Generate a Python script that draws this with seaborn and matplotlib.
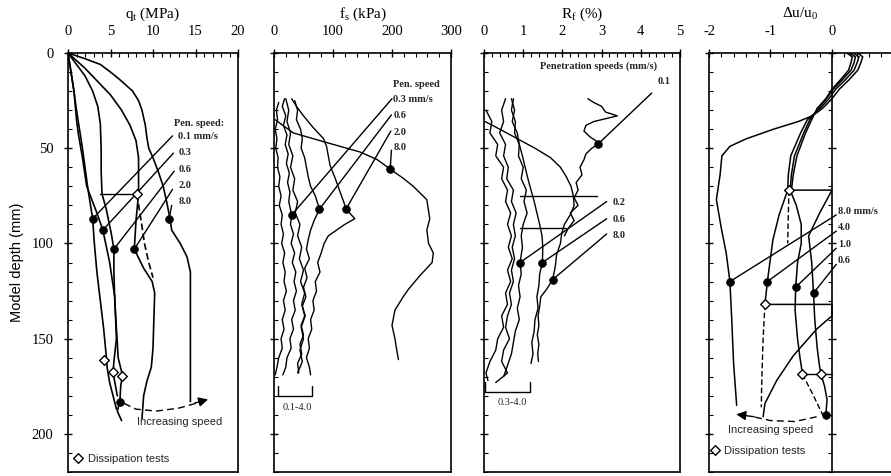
import matplotlib
matplotlib.use("Agg")
import matplotlib.pyplot as plt
import seaborn as sns
from matplotlib.ticker import MultipleLocator

# ---------------- data ----------------
# Panel 1: cone resistance q_t (MPa) vs depth (mm)
qt_01_d = [0, 10, 20, 30, 40, 50, 60, 70, 80, 87, 100, 115, 130, 145, 159, 165, 173, 180, 187]
qt_01 = [0, 0.35, 0.7, 1.0, 1.35, 1.7, 2.0, 2.3, 2.65, 2.9, 3.1, 3.4, 3.8, 4.2, 4.5, 4.6, 4.9, 5.3, 5.7]
qt_03_d = [0, 7, 20, 35, 42, 55, 70, 84, 93, 110, 128, 150, 162, 168, 175, 180]
qt_03 = [0, 0.25, 0.7, 1.0, 1.2, 1.7, 2.2, 3.4, 4.1, 4.9, 5.5, 5.7, 5.4, 5.3, 5.6, 5.8]
qt_06_d = [0, 6, 12, 20, 28, 37, 50, 62, 74, 82, 95, 103, 115, 130, 145, 160, 169, 175, 183, 188, 193]
qt_06 = [0, 1.0, 2.0, 2.9, 3.5, 3.8, 3.9, 3.9, 4.0, 4.5, 5.1, 5.4, 5.4, 5.5, 5.7, 5.9, 6.4, 6.2, 6.1, 5.8, 6.3]
qt_20_d = [0, 8, 15, 22, 30, 38, 46, 55, 65, 74, 88, 103, 113, 120, 126, 140, 155, 165, 172, 180, 192]
qt_20 = [0, 2.0, 3.5, 5.0, 6.3, 7.3, 8.0, 8.3, 8.3, 8.3, 8.0, 7.8, 8.9, 9.9, 10.2, 10.1, 10.0, 9.8, 9.3, 8.9, 8.7]
qt_80_d = [0, 3, 6, 10, 14, 20, 25, 30, 38, 45, 50, 55, 62, 70, 78, 87, 93, 100, 107, 115, 130, 150, 170, 183]
qt_80 = [0, 2.0, 3.8, 5.0, 6.1, 7.6, 8.3, 8.7, 9.1, 9.3, 9.5, 10.0, 10.6, 11.2, 11.6, 12.0, 12.2, 13.2, 14.0, 14.4, 14.4, 14.4, 14.4, 14.4]
qt_dash_d = [74, 88, 100, 110, 118]
qt_dash = [8.1, 8.6, 9.0, 9.5, 10.0]
qt_dots_x = [2.9, 4.1, 5.4, 7.8, 11.9, 6.1]
qt_dots_d = [87, 93, 103, 103, 87, 183]
qt_diss_x = [8.1, 4.2, 5.3, 6.4]
qt_diss_d = [74, 161, 167.7, 169.5]
qt_speeds = ["0.1 mm/s", "0.3", "0.6", "2.0", "8.0"]

# Panel 2: sleeve friction f_s (kPa)
fs_01_d = [26, 30, 35, 40, 45, 50, 55, 60, 65, 70, 75, 80, 85, 90, 95, 100, 105, 110, 115, 120, 125, 130, 135, 140, 145, 150, 155, 160, 165, 169]
fs_01 = [8, 4, 6, 2, 5, 3, 7, 6, 10, 8, 12, 9, 14, 12, 16, 13, 18, 15, 19, 17, 21, 16, 19, 14, 17, 12, 14, 8, 5, 2]
fs_03_d = [24, 28, 33, 38, 43, 48, 53, 58, 63, 68, 73, 78, 85, 90, 95, 100, 105, 110, 115, 120, 125, 130, 135, 140, 145, 150, 155, 160, 165, 169]
fs_03 = [18, 14, 20, 16, 22, 19, 24, 21, 26, 23, 27, 25, 30, 28, 33, 29, 35, 31, 37, 34, 38, 33, 36, 30, 33, 27, 29, 22, 20, 15]
fs_06_d = [25, 30, 35, 40, 45, 50, 55, 60, 65, 70, 75, 82, 88, 93, 98, 103, 108, 113, 118, 123, 128, 133, 138, 143, 148, 153, 158, 163, 168]
fs_06 = [35, 40, 38, 45, 48, 46, 52, 55, 58, 62, 70, 77, 68, 62, 58, 55, 60, 52, 56, 50, 54, 48, 52, 46, 50, 44, 47, 40, 42]
fs_20_d = [24, 28, 33, 39, 45, 49, 54, 59, 66, 73, 78, 82, 87, 90, 93, 96, 100, 105, 110, 115, 120, 125, 130, 135, 140, 145, 150, 155, 160, 165, 169]
fs_20 = [30, 38, 50, 66, 84, 89, 92, 95, 104, 112, 118, 122, 137, 120, 106, 92, 85, 80, 74, 78, 70, 72, 66, 68, 62, 64, 58, 60, 55, 60, 62]
fs_40_d = [24, 30, 36, 42, 48, 54, 60, 66, 72, 78, 84, 90, 96, 102, 108, 114, 120, 126, 132, 138, 144, 150, 156, 162, 168]
fs_40 = [20, 25, 22, 28, 25, 32, 28, 35, 32, 40, 36, 44, 40, 47, 43, 50, 45, 52, 47, 53, 46, 50, 44, 48, 40]
fs_80_d = [35, 38, 42, 47, 52, 56, 61, 66, 70, 77, 87, 93, 100, 105, 110, 117, 124, 128, 135, 143, 150, 156, 161]
fs_80 = [2, 15, 33, 89, 146, 175, 197, 220, 236, 259, 264, 259, 262, 270, 268, 247, 228, 219, 205, 200, 205, 208, 211]
fs_dots_x = [30, 77, 122, 197]
fs_dots_d = [85, 82, 82, 61]
fs_speeds = ["0.3 mm/s", "0.6", "2.0", "8.0"]

# Panel 3: friction ratio R_f (%)
rf_01_d = [24, 26, 28, 31, 33, 34, 36, 38, 41, 44, 46, 48, 50, 53, 56, 60, 64, 68, 72, 76, 80, 84, 88, 92, 96]
rf_01 = [2.65, 2.8, 3.0, 3.1, 3.4, 3.2, 2.8, 2.6, 2.55, 2.7, 2.85, 2.9, 2.75, 2.6, 2.55, 2.45, 2.5, 2.35, 2.4, 2.3, 2.4, 2.2, 2.3, 2.15, 2.05]
rf_80_d = [36, 40, 45, 50, 55, 60, 65, 70, 75, 80, 85, 90, 95, 100, 106, 112, 119, 124, 128, 133, 138, 143, 148, 153, 158, 162]
rf_80 = [0.03, 0.4, 0.85, 1.3, 1.7, 1.95, 2.1, 2.22, 2.28, 2.3, 2.2, 2.05, 1.98, 1.95, 1.85, 1.82, 1.75, 1.6, 1.45, 1.42, 1.38, 1.4, 1.36, 1.4, 1.37, 1.39]
rf_06_d = [24, 30, 36, 42, 48, 54, 60, 66, 72, 78, 84, 90, 96, 102, 110, 116, 122, 128, 134, 140, 146, 152, 158, 163]
rf_06 = [0.7, 0.78, 0.72, 0.85, 0.9, 0.98, 1.05, 1.12, 1.2, 1.28, 1.35, 1.42, 1.48, 1.5, 1.49, 1.42, 1.4, 1.35, 1.38, 1.3, 1.28, 1.22, 1.25, 1.2]
rf_02_d = [24, 30, 36, 42, 48, 54, 60, 66, 72, 78, 84, 90, 96, 102, 110, 116, 122, 128, 134, 140, 146, 152, 158, 164, 170]
rf_02 = [0.75, 0.7, 0.8, 0.78, 0.9, 0.88, 1.0, 0.95, 1.08, 1.02, 1.1, 1.0, 0.95, 0.98, 0.92, 0.95, 0.88, 0.92, 0.85, 0.9, 0.8, 0.75, 0.7, 0.6, 0.5]
rf_a_d = [30, 36, 42, 48, 54, 60, 66, 72, 78, 84, 90, 96, 102, 108, 114, 120, 126, 132, 138, 144, 150, 156, 162, 168, 172]
rf_a = [0.05, 0.2, 0.15, 0.35, 0.3, 0.5, 0.45, 0.6, 0.55, 0.68, 0.6, 0.7, 0.62, 0.72, 0.6, 0.68, 0.55, 0.6, 0.45, 0.5, 0.35, 0.3, 0.15, 0.05, 0.1]
rf_b_d = [24, 30, 36, 42, 48, 54, 60, 66, 72, 78, 84, 90, 96, 102, 108, 114, 120, 126, 132, 138, 144, 150, 156, 162, 168, 173]
rf_b = [0.55, 0.45, 0.5, 0.4, 0.55, 0.5, 0.62, 0.58, 0.75, 0.7, 0.82, 0.75, 0.8, 0.72, 0.78, 0.7, 0.75, 0.65, 0.7, 0.6, 0.55, 0.65, 0.5, 0.45, 0.6, 0.3]
rf_dots_x = [2.9, 0.92, 1.49, 1.75]
rf_dots_d = [48, 110, 110, 119]
rf_speeds = ["0.2", "0.6", "8.0"]

# Panel 4: normalised excess pore pressure du/u0
du_80_d = [0, 2, 5, 9, 14, 19, 24, 29, 33, 36, 40, 45, 49, 54, 64, 77, 92, 105, 120, 140, 163, 185]
du_80 = [0.42, 0.5, 0.47, 0.42, 0.28, 0.12, 0.0, -0.15, -0.32, -0.55, -0.95, -1.39, -1.66, -1.79, -1.82, -1.88, -1.8, -1.72, -1.66, -1.63, -1.6, -1.55]
du_40_d = [0, 2, 5, 9, 14, 19, 24, 29, 35, 42, 54, 64, 72, 85, 98, 110, 120, 132, 132, 138, 145, 159, 172, 184, 191]
du_40 = [0.34, 0.44, 0.41, 0.36, 0.22, 0.06, -0.05, -0.19, -0.4, -0.51, -0.67, -0.71, -0.72, -0.86, -0.96, -1.01, -1.05, -1.09, 0.0, 0.0, -0.25, -0.63, -0.9, -1.09, -1.12]
du_10_d = [0, 2, 5, 9, 14, 19, 24, 29, 35, 42, 54, 64, 72, 80, 90, 100, 110, 123, 135, 150, 160, 168.6]
du_10 = [0.28, 0.38, 0.36, 0.31, 0.17, 0.02, -0.09, -0.22, -0.36, -0.46, -0.61, -0.66, -0.68, -0.58, -0.5, -0.5, -0.56, -0.59, -0.6, -0.56, -0.52, -0.48]
du_06_d = [0, 2, 5, 9, 14, 19, 24, 29, 35, 42, 54, 64, 72, 72, 84, 96, 110, 126, 140, 155, 165, 168.6, 175, 182, 190]
du_06 = [0.24, 0.33, 0.31, 0.27, 0.14, 0.0, -0.1, -0.24, -0.33, -0.43, -0.57, -0.63, -0.66, 0.0, -0.2, -0.38, -0.33, -0.3, -0.28, -0.24, -0.2, -0.18, -0.12, -0.08, -0.1]
du_dashA_d = [72, 85, 100]
du_dashA = [-0.7, -0.71, -0.72]
du_dashB_d = [132, 150, 170, 186]
du_dashB = [-1.09, -1.12, -1.14, -1.15]
du_dashC_d = [168.6, 180, 190]
du_dashC = [-0.48, -0.3, -0.15]
du_dots_x = [-1.66, -1.05, -0.59, -0.3, -0.1]
du_dots_d = [120, 120, 123, 126, 190]
du_diss_x = [-0.7, -1.09, -0.48, -0.18]
du_diss_d = [72, 132, 168.6, 168.6]
du_speeds = ["8.0 mm/s", "4.0", "1.0", "0.6"]

# ---------------- style ----------------
sns.set_theme(style="ticks")
plt.rcParams["font.family"] = ["Liberation Serif", "DejaVu Serif"]
plt.rcParams["mathtext.fontset"] = "custom"
plt.rcParams["mathtext.rm"] = "Liberation Serif"
plt.rcParams["mathtext.it"] = "Liberation Serif:italic"
plt.rcParams["axes.unicode_minus"] = False
SANS = ["Liberation Sans", "DejaVu Sans"]
LW = 1.2
K = "black"

W, H = 891, 476
fig = plt.figure(figsize=(W / 100, H / 100), dpi=100)
fig.patch.set_facecolor("white")
top_px, bot_px = 53, 472


def make_ax(x0, x1):
    return fig.add_axes([x0 / W, 1 - bot_px / H, (x1 - x0) / W, (bot_px - top_px) / H])


def style(ax, xlim, major, minor, xlabel):
    ax.set_facecolor("white")
    ax.set_xlim(*xlim)
    ax.set_ylim(220, 0)
    ax.xaxis.set_ticks_position("top")
    ax.xaxis.set_label_position("top")
    ax.xaxis.set_major_locator(MultipleLocator(major))
    ax.xaxis.set_minor_locator(MultipleLocator(minor))
    ax.yaxis.set_major_locator(MultipleLocator(50))
    ax.yaxis.set_minor_locator(MultipleLocator(10))
    ax.tick_params(which="major", direction="inout", length=6, width=1.0, colors=K,
                   labelsize=10.5, pad=8)
    ax.tick_params(axis="y", which="major", pad=7.5)
    ax.tick_params(which="minor", direction="in", length=3, width=0.8, colors=K)
    for s in ax.spines.values():
        s.set_linewidth(1.2)
        s.set_color(K)
    ax.set_xlabel(xlabel, fontsize=11, labelpad=5, color=K)
    ax.set_ylabel("")
    ax.grid(False)


def curve(ax, x, d, ls="-", lw=LW):
    sns.lineplot(x=x, y=d, sort=False, estimator=None, color=K, lw=lw, ax=ax, linestyle=ls)


def dots(ax, x, d):
    sns.scatterplot(x=x, y=d, marker="o", s=32, color=K, edgecolor=K, ax=ax, zorder=6)


def diamonds(ax, x, d):
    sns.scatterplot(x=x, y=d, marker="D", s=24, facecolor="white", edgecolor=K,
                    linewidth=1.0, ax=ax, zorder=7)


def leaders(ax, starts, ends):
    for (xs, ds), (xe, de) in zip(starts, ends):
        curve(ax, [xs, xe], [ds, de], lw=1.0)


ax1 = make_ax(68, 238)
ax2 = make_ax(274, 451)
ax3 = make_ax(484, 680)
ax4 = make_ax(709, 891)

# ---------------- panel 1 ----------------
for x, d in [(qt_01, qt_01_d), (qt_03, qt_03_d), (qt_06, qt_06_d), (qt_20, qt_20_d), (qt_80, qt_80_d)]:
    curve(ax1, x, d)
curve(ax1, qt_dash, qt_dash_d, ls=(0, (4, 2)))
curve(ax1, [3.76, 8.1], [74, 74], lw=1.0)
dots(ax1, qt_dots_x, qt_dots_d)
diamonds(ax1, qt_diss_x, qt_diss_d)
leaders(ax1, [(12.3, 43.5), (12.4, 52.6), (12.5, 62), (12.3, 71.6), (12.2, 80)],
        list(zip(qt_dots_x[:5], qt_dots_d[:5])))
ax1.text(12.5, 37, "Pen. speed:", fontsize=7.5, fontweight="bold", va="center", ha="left")
for lab, d in zip(qt_speeds, [44, 52.5, 61, 69.5, 78]):
    ax1.text(13.0, d, lab, fontsize=7.5, fontweight="bold", va="center", ha="left")
curve(ax1, [6.6, 8.0, 10.4, 13.0, 15.0], [184, 187, 188, 186.5, 184], ls=(0, (5, 3)), lw=1.0)
ax1.annotate("", xy=(16.8, 181.5), xytext=(14.6, 184.2),
             arrowprops=dict(arrowstyle="-|>", color=K, lw=1.0, mutation_scale=14))
ax1.text(8.1, 194, "Increasing speed", fontsize=8, family=SANS, va="center", ha="left")
diamonds(ax1, [1.2], [212.5])
ax1.text(2.3, 213, "Dissipation tests", fontsize=8, family=SANS, va="center", ha="left")
style(ax1, (0, 20), 5, 1, r"q$_\mathregular{t}$ (MPa)")
ax1.set_ylabel("Model depth (mm)", fontsize=10.5, family=SANS, labelpad=5, color=K)

# ---------------- panel 2 ----------------
for x, d in [(fs_01, fs_01_d), (fs_03, fs_03_d), (fs_06, fs_06_d), (fs_20, fs_20_d),
             (fs_40, fs_40_d), (fs_80, fs_80_d)]:
    curve(ax2, x, d, lw=1.0)
dots(ax2, fs_dots_x, fs_dots_d)
leaders(ax2, [(200, 24), (199, 32.5), (198, 41), (199, 51)], list(zip(fs_dots_x, fs_dots_d)))
ax2.text(202, 16.5, "Pen. speed", fontsize=7.5, fontweight="bold", va="center", ha="left")
for lab, d in zip(fs_speeds, [24.5, 33, 41.5, 49.5]):
    ax2.text(202, d, lab, fontsize=7.5, fontweight="bold", va="center", ha="left")
curve(ax2, [7, 7, 64, 64], [175, 180, 180, 175], lw=1.0)
ax2.text(40, 186, "0.1-4.0", fontsize=7.5, va="center", ha="center")
style(ax2, (0, 300), 100, 20, r"f$_\mathregular{s}$ (kPa)")
ax2.tick_params(axis="y", labelleft=False)

# ---------------- panel 3 ----------------
for x, d in [(rf_01, rf_01_d), (rf_80, rf_80_d), (rf_06, rf_06_d), (rf_02, rf_02_d),
             (rf_a, rf_a_d), (rf_b, rf_b_d)]:
    curve(ax3, x, d, lw=1.0)
curve(ax3, [0.92, 2.87], [75, 75], lw=1.0)
curve(ax3, [0.92, 2.1], [92, 92], lw=1.0)
dots(ax3, rf_dots_x, rf_dots_d)
leaders(ax3, [(4.28, 21), (3.13, 78), (3.13, 87), (3.13, 95)], list(zip(rf_dots_x, rf_dots_d)))
ax3.text(2.92, 7, "Penetration speeds (mm/s)", fontsize=7.5, fontweight="bold", va="center", ha="center")
ax3.text(4.44, 15, "0.1", fontsize=7.5, fontweight="bold", va="center", ha="left")
for lab, d in zip(rf_speeds, [78.6, 87.4, 96]):
    ax3.text(3.27, d, lab, fontsize=7.5, fontweight="bold", va="center", ha="left")
curve(ax3, [0.02, 0.02, 1.17, 1.17], [173, 178, 178, 173], lw=1.0)
ax3.text(0.72, 183.5, "0.3-4.0", fontsize=7.5, va="center", ha="center")
style(ax3, (0, 5), 1, 0.2, r"R$_\mathregular{f}$ (%)")
ax3.tick_params(axis="y", labelleft=False)

# ---------------- panel 4 ----------------
for x, d in [(du_80, du_80_d), (du_40, du_40_d), (du_10, du_10_d), (du_06, du_06_d)]:
    curve(ax4, x, d, lw=1.1)
for x, d in [(du_dashA, du_dashA_d), (du_dashB, du_dashB_d), (du_dashC, du_dashC_d)]:
    curve(ax4, x, d, ls=(0, (4, 2)), lw=1.0)
curve(ax4, [-0.48, 0.0], [168.6, 168.6], lw=1.0)
dots(ax4, du_dots_x, du_dots_d)
diamonds(ax4, du_diss_x, du_diss_d)
leaders(ax4, [(0.07, 85), (0.07, 93.5), (0.07, 102.5), (0.07, 111)],
        list(zip(du_dots_x[:4], du_dots_d[:4])))
for lab, d in zip(du_speeds, [83, 91.6, 100.5, 109]):
    ax4.text(0.1, d, lab, fontsize=7.5, fontweight="bold", va="center", ha="left")
curve(ax4, [-0.25, -0.6, -1.0, -1.25], [191, 193.5, 193, 191.2], ls=(0, (5, 3)), lw=1.0)
ax4.annotate("", xy=(-1.6, 189.5), xytext=(-1.22, 191.2),
             arrowprops=dict(arrowstyle="-|>", color=K, lw=1.0, mutation_scale=14))
ax4.text(-1.0, 198, "Increasing speed", fontsize=8, family=SANS, va="center", ha="center")
diamonds(ax4, [-1.9], [208.5])
ax4.text(-1.75, 209, "Dissipation tests", fontsize=8, family=SANS, va="center", ha="left")
style(ax4, (-2, 0.96), 1, 0.2, r"$\Delta$u/u$_\mathregular{0}$")
ax4.set_xticks([-2, -1, 0])
ax4.xaxis.set_minor_locator(MultipleLocator(0.2))
ax4.spines["right"].set_position(("data", 0))
ax4.yaxis.set_ticks_position("both")
ax4.tick_params(axis="y", labelleft=False, labelright=False)

fig.savefig("out.png", dpi=100, facecolor="white")
